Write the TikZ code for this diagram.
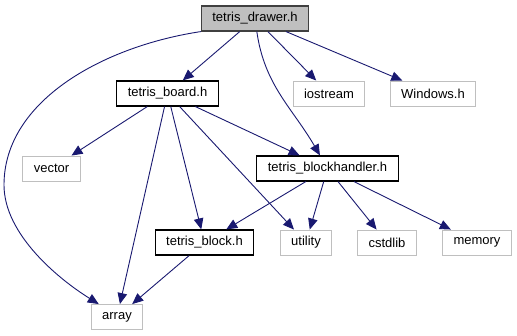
\documentclass[tikz,border=0pt]{standalone}
\usepackage{fontspec}
\setmainfont{Liberation Sans}
\usepackage{xcolor}
\usetikzlibrary{shapes,arrows.meta,positioning}

\definecolor{edgeblue}{HTML}{191970}
\definecolor{extgray}{HTML}{BFBFBF}
\definecolor{rootborder}{HTML}{404040}

\begin{document}
\begin{tikzpicture}[x=1pt, y=-1pt, on grid, auto,
    file/.style={rectangle, draw=black, line width=1.2pt, fill=white, inner xsep=11pt, inner ysep=0pt, minimum height=25pt, font=\fontsize{13}{15}\selectfont},
    root/.style={file, fill=extgray, draw=rootborder},
    sysfile/.style={file, draw=extgray, line width=0.9pt},
    edge/.style={-{Triangle[length=11pt,width=9.5pt,fill=edgeblue]}, draw=edgeblue, line width=0.9pt}]

    \useasboundingbox (0,0) rectangle (517,336);

    \node[root] (drawer) at (255,18.5) {tetris\_drawer.h};
    \node[file, below left=75pt and 87.5pt of drawer] (board) {tetris\_board.h};
    \node[sysfile, below right=75pt and 74pt of drawer] (iostream) {iostream};
    \node[sysfile, right=104pt of iostream] (windows) {Windows.h};

    \node[sysfile, below left=75pt and 116pt of board] (vector) {vector};
    \node[file, below right=75pt and 160pt of board] (handler) {tetris\_blockhandler.h};

    \node[file, below left=74pt and 123pt of handler] (block) {tetris\_block.h};
    \node[sysfile, below left=74pt and 21.5pt of handler] (utility) {utility};
    \node[sysfile, below right=74pt and 59.5pt of handler] (cstdlib) {cstdlib};
    \node[sysfile, right=90pt of cstdlib] (memory) {memory};

    \node[sysfile, below left=74.5pt and 87.5pt of block] (array) {array};

    \draw[edge] (drawer) -- (board);
    \draw[edge] (drawer) -- (iostream);
    \draw[edge] (drawer) -- (windows);
    \draw[edge] (drawer) to[out=-82, in=120] (handler);
    \draw[edge] (drawer.south west) .. controls (105,46) and (4,100) .. (4,185)
        .. controls (4,235) and (60,280) .. ([xshift=8pt]array.north west);

    \draw[edge] (board) -- (vector);
    \draw[edge] (board) -- (handler);
    \draw[edge] (board) -- (block);
    \draw[edge] (board) -- (utility);
    \draw[edge] (board) -- (array);

    \draw[edge] (handler) -- (block);
    \draw[edge] (handler) -- (utility);
    \draw[edge] (handler) -- (cstdlib);
    \draw[edge] (handler) -- (memory);

    \draw[edge] (block) -- (array);
\end{tikzpicture}
\end{document}
